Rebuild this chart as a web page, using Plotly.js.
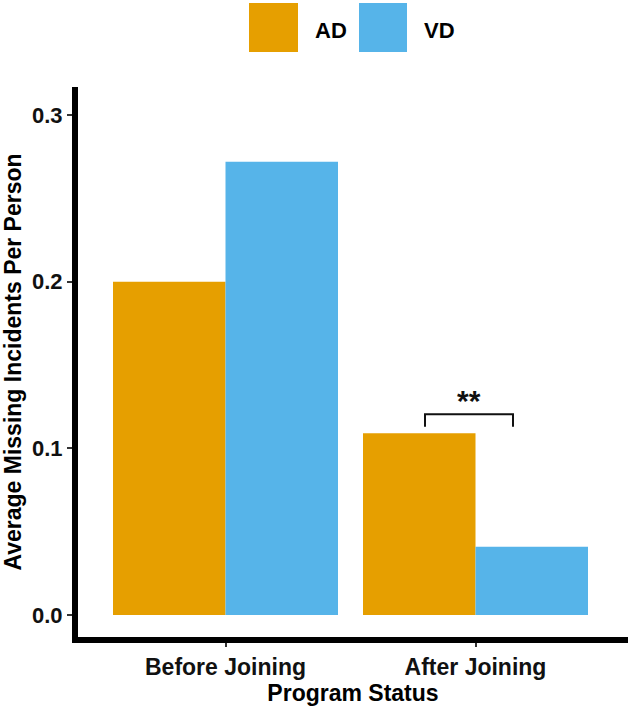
<!DOCTYPE html>
<html>
<head>
<meta charset="utf-8">
<script src="https://cdn.plot.ly/plotly-3.0.1.min.js"></script>
<style>html,body{margin:0;padding:0;background:#fff;}#chart{width:633px;height:708px;}</style>
</head>
<body>
<div id="chart"></div>
<script>
// ---- data ----
const categories = ['Before Joining', 'After Joining'];
const seriesNames = ['AD', 'VD'];
const seriesColors = ['#E69F00', '#56B4E9'];
const adValues = [0.200, 0.109];
const vdValues = [0.272, 0.041];
const yTickVals = [0, 0.1, 0.2, 0.3];
const yTickText = ['0.0', '0.1', '0.2', '0.3'];
const sigLabel = '**';

// ---- layout constants ----
const W = 633, H = 708;
const M = {l: 78, r: 5, t: 87, b: 71};
const plotW = W - M.l - M.r, plotH = H - M.t - M.b;
const FONT = 'Liberation Sans, Arial, sans-serif';
const fx = px => (px - M.l) / plotW;      // pixel -> paper x
const fy = py => (H - M.b - py) / plotH;  // pixel -> paper y

const allValues = [adValues, vdValues];
const traces = seriesNames.map((name, i) => ({
  type: 'bar',
  name: name,
  x: categories,
  y: allValues[i],
  marker: {color: seriesColors[i], line: {width: 0}},
  showlegend: false,
  hoverinfo: 'x+y+name'
}));

// manual legend (large square keys, as in the reference)
const legendSquares = [[249, 298], [359, 407]];
const legendTextX = [313, 422];
const shapes = [];
const annotations = [];
seriesNames.forEach((name, i) => {
  shapes.push({type: 'rect', xref: 'paper', yref: 'paper',
    x0: fx(legendSquares[i][0]), x1: fx(legendSquares[i][1]),
    y0: fy(52), y1: fy(3), fillcolor: seriesColors[i], line: {width: 0}});
  annotations.push({xref: 'paper', yref: 'paper', x: fx(legendTextX[i]), y: fy(30),
    xanchor: 'left', yanchor: 'middle', showarrow: false, text: name,
    font: {family: FONT, size: 22, color: '#000', weight: 'bold'}});
});

// significance bracket for "After Joining" (category index 1)
const sigCat = 1;
const bTop = Math.max(adValues[sigCat], vdValues[sigCat]) + 0.0114;
const bLeg = bTop - 0.0074;
const bx0 = sigCat - 0.202, bx1 = sigCat + 0.150;
shapes.push({type: 'path', xref: 'x', yref: 'y',
  path: `M ${bx0},${bLeg} L ${bx0},${bTop} L ${bx1},${bTop} L ${bx1},${bLeg}`,
  line: {color: '#111', width: 2}});
annotations.push({xref: 'x', yref: 'y', x: (bx0 + bx1) / 2, y: bTop + 0.0085,
  xanchor: 'center', yanchor: 'middle', showarrow: false, text: sigLabel,
  font: {family: FONT, size: 30, color: '#111', weight: 'bold'}});

const layout = {
  width: W, height: H,
  margin: M,
  paper_bgcolor: '#fff', plot_bgcolor: '#fff',
  barmode: 'group', bargap: 0.1, bargroupgap: 0,
  showlegend: false,
  font: {family: FONT, color: '#000'},
  xaxis: {
    type: 'category', range: [-0.59, 1.61],
    showline: true, linewidth: 6, linecolor: '#000',
    showgrid: false, zeroline: false,
    ticks: 'outside', ticklen: 4, tickwidth: 2, tickcolor: '#333',
    tickfont: {family: FONT, size: 23, color: '#111', weight: 'bold'},
    title: {text: 'Program Status', standoff: 4,
      font: {family: FONT, size: 23, color: '#000', weight: 'bold'}}
  },
  yaxis: {
    range: [-0.0132, 0.3168],
    tickvals: yTickVals, ticktext: yTickText,
    showline: true, linewidth: 6, linecolor: '#000',
    showgrid: false, zeroline: false,
    ticks: 'outside', ticklen: 5, tickwidth: 2, tickcolor: '#333',
    tickfont: {family: FONT, size: 22, color: '#111', weight: 'bold'},
    title: {text: 'Average Missing Incidents Per Person', standoff: 8,
      font: {family: FONT, size: 23, color: '#000', weight: 'bold'}}
  },
  shapes: shapes,
  annotations: annotations
};

Plotly.newPlot('chart', traces, layout, {displayModeBar: false, responsive: false});
</script>
</body>
</html>
